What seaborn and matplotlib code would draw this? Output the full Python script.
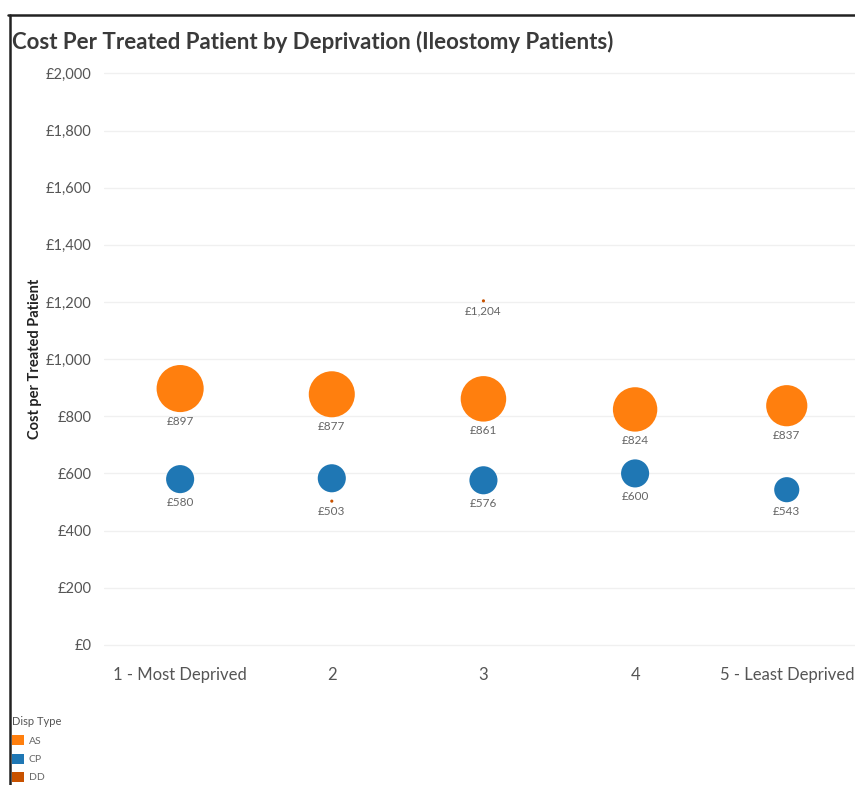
import numpy as np
import pandas as pd
import seaborn as sns
import matplotlib.pyplot as plt
from matplotlib.lines import Line2D
from matplotlib.patches import Patch
from matplotlib.ticker import FuncFormatter

# Data
deprivation = ["1 - Most Deprived", "2", "3", "4", "5 - Least Deprived"]
as_cost = [897, 877, 861, 824, 837]
cp_cost = [580, 583, 576, 600, 543]
dd_levels = ["2", "3"]
dd_cost = [503, 1204]
# estimated patient counts (drive the circle size)
as_patients = [225, 215, 210, 200, 172]
cp_patients = [80, 80, 80, 80, 64]
dd_patients = [1, 1]

disp_types = ["AS", "CP", "DD"]
colors = {"AS": "#FF7F0E", "CP": "#1F77B4", "DD": "#C85200"}
hidden_labels = {("CP", "2")}

df = pd.concat([
    pd.DataFrame({"Deprivation": deprivation, "Cost": as_cost, "Patients": as_patients, "Disp Type": "AS"}),
    pd.DataFrame({"Deprivation": deprivation, "Cost": cp_cost, "Patients": cp_patients, "Disp Type": "CP"}),
    pd.DataFrame({"Deprivation": dd_levels, "Cost": dd_cost, "Patients": dd_patients, "Disp Type": "DD"}),
], ignore_index=True)
df["Deprivation"] = pd.Categorical(df["Deprivation"], categories=deprivation, ordered=True)
df["pos"] = df["Deprivation"].cat.codes

sns.set_theme(style="white")
plt.rcParams["font.family"] = ["Lato", "DejaVu Sans"]

fig = plt.figure(figsize=(8.55, 7.85), dpi=100)
ax = fig.add_axes([0.122, 0.164, 0.878, 0.757])

sns.scatterplot(data=df, x="pos", y="Cost", hue="Disp Type", palette=colors,
                hue_order=disp_types, size="Patients", sizes=(0, 1150),
                size_norm=(0, 225), linewidth=0, alpha=1, legend=False, ax=ax)

ax.set_xlim(-0.5, 4.45)
ax.set_ylim(-40, 2040)
ax.set_xticks(range(len(deprivation)))
ax.set_xticklabels(deprivation)
ax.set_yticks(np.arange(0, 2001, 200))
ax.yaxis.set_major_formatter(FuncFormatter(lambda v, p: f"£{v:,.0f}"))
ax.tick_params(axis="both", length=0, labelcolor="#555555")
ax.tick_params(axis="x", pad=8, labelsize=12)
ax.tick_params(axis="y", pad=9, labelsize=10.5)
ax.grid(axis="y", color="#f0f0f0", linewidth=1)
for s in ax.spines.values():
    s.set_visible(False)
ax.set_xlabel("")
ax.set_ylabel("Cost per Treated Patient", fontsize=10.5, fontweight="bold", color="#222222", labelpad=3)

# value labels under each circle
coll = ax.collections[0]
sizes = coll.get_sizes()
for i, row in df.iterrows():
    if (row["Disp Type"], str(row["Deprivation"])) in hidden_labels:
        continue
    radius = np.sqrt(sizes[i]) / 2
    ax.annotate(f"£{row['Cost']:,.0f}", (row["pos"], row["Cost"]),
                xytext=(0, -radius - 2.5), textcoords="offset points",
                ha="center", va="top", fontsize=8.5, color="#666666")

fig.text(0.014, 0.947, "Cost Per Treated Patient by Deprivation (Ileostomy Patients)",
         fontsize=16, fontweight="bold", color="#3a3a3a", va="center", ha="left")

# frame lines of the dashboard
fig.add_artist(Line2D([0.009, 1.0], [0.981, 0.981], color="#222222", linewidth=1.8))
fig.add_artist(Line2D([0.012, 0.012], [0.0, 0.981], color="#222222", linewidth=1.8))

handles = [Patch(facecolor=colors[t], edgecolor="none") for t in disp_types]
leg = fig.legend(handles, disp_types, title="Disp Type", loc="upper left",
                 bbox_to_anchor=(0.008, 0.094), frameon=False, fontsize=7.5,
                 title_fontsize=8, handlelength=1.1, handleheight=1.1,
                 handletextpad=0.5, labelspacing=0.75, borderpad=0)
leg._legend_box.align = "left"
for t in leg.get_texts():
    t.set_color("#666666")
leg.get_title().set_color("#555555")

fig.savefig("out.png", dpi=100)
